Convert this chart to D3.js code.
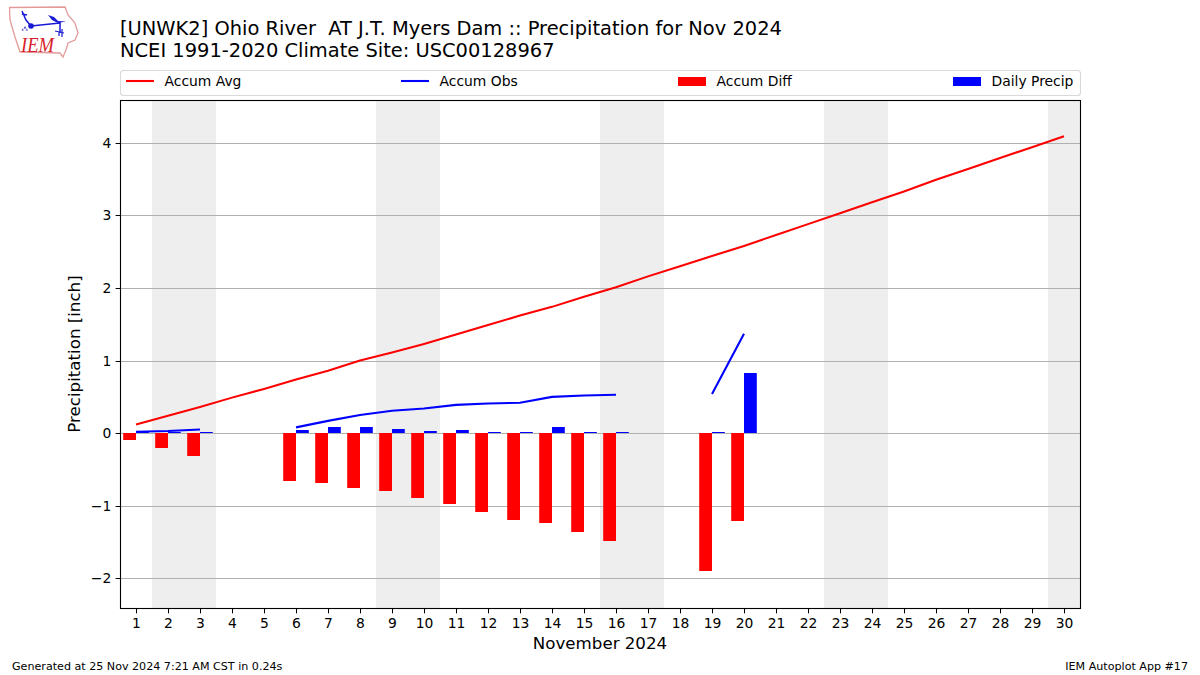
<!DOCTYPE html>
<html><head><meta charset="utf-8">
<script src="https://cdn.jsdelivr.net/npm/d3@7"></script>
<style>html,body{margin:0;padding:0;background:#fff}svg{display:block}text{font-family:"DejaVu Sans",sans-serif;fill:#000}</style>
</head><body><svg id="c" width="1200" height="675"></svg>
<script>
const days = d3.range(1, 31);
const accumAvg = [0.12,0.24,0.36,0.49,0.61,0.74,0.86,1.00,1.11,1.23,1.36,1.49,1.62,1.74,1.88,2.01,2.16,2.30,2.44,2.58,2.73,2.88,3.03,3.18,3.33,3.49,3.64,3.79,3.94,4.09];
const accumObs = [0.02,0.03,0.05,null,null,0.08,0.17,0.25,0.31,0.34,0.39,0.41,0.42,0.50,0.52,0.53,null,null,0.54,1.37,null,null,null,null,null,null,null,null,null,null];
const accumDiff = [-0.10,-0.21,-0.32,null,null,-0.66,-0.69,-0.75,-0.80,-0.89,-0.97,-1.09,-1.20,-1.24,-1.36,-1.49,null,null,-1.90,-1.21,null,null,null,null,null,null,null,null,null,null];
const dailyPrecip = [0.02,0.01,0.01,null,null,0.05,0.09,0.08,0.06,0.03,0.05,0.01,0.01,0.08,0.01,0.01,null,null,0.01,0.83,null,null,null,null,null,null,null,null,null,null];
const weekends = [[1.5,3.5],[8.5,10.5],[15.5,17.5],[22.5,24.5],[29.5,30.5]];
const yTicks = [-2,-1,0,1,2,3,4];
const legendLabels = ["Accum Avg","Accum Obs","Accum Diff","Daily Precip"];
const titleLines = ["[UNWK2] Ohio River  AT J.T. Myers Dam :: Precipitation for Nov 2024","NCEI 1991-2020 Climate Site: USC00128967"];

const L=120,R=1080,T=100,B=608;
const svg=d3.select("#c");
const x=d3.scaleLinear().domain([0.5,30.5]).range([L,R]);
const y=d3.scaleLinear().domain([-2.4077,4.5895]).range([B,T]);
const barW=x(0.4)-x(0);
const snapY=v=>Math.round(y(v))+0.5;
const y0=Math.round(y(0));
const plot=svg.append("g");

plot.selectAll("rect.w").data(weekends).join("rect").attr("class","w")
 .attr("x",d=>x(d[0])).attr("width",d=>x(d[1])-x(d[0])).attr("y",T).attr("height",B-T).attr("fill","#eeeeee");

plot.selectAll("line.g").data(yTicks).join("line").attr("class","g")
 .attr("x1",L).attr("x2",R).attr("y1",snapY).attr("y2",snapY)
 .attr("stroke","#b0b0b0").attr("stroke-width",1);

const ser=(a)=>days.map((d,i)=>({d,v:a[i]})).filter(o=>o.v!==null);
plot.selectAll("rect.diff").data(ser(accumDiff)).join("rect").attr("class","diff")
 .attr("x",o=>x(o.d)-barW).attr("width",barW).attr("y",y0).attr("height",o=>Math.round(y(o.v))-y0).attr("fill","#ff0000");
const dailyTop=v=>Math.min(y0-1,Math.round(y(v)));
plot.selectAll("rect.daily").data(ser(dailyPrecip)).join("rect").attr("class","daily")
 .attr("x",o=>x(o.d)).attr("width",barW).attr("y",o=>dailyTop(o.v)).attr("height",o=>y0-dailyTop(o.v)).attr("fill","#0000ff");

const line=d3.line().defined(o=>o.v!==null).x(o=>x(o.d)).y(o=>y(o.v));
const mk=a=>days.map((d,i)=>({d,v:a[i]}));
plot.append("path").attr("d",line(mk(accumAvg))).attr("fill","none").attr("stroke","#ff0000").attr("stroke-width",2.08);
plot.append("path").attr("d",line(mk(accumObs))).attr("fill","none").attr("stroke","#0000ff").attr("stroke-width",2.08);

svg.append("rect").attr("x",L+0.5).attr("y",T+0.5).attr("width",R-L).attr("height",B-T).attr("fill","none").attr("stroke","#000").attr("stroke-width",1.1);

const gx=svg.append("g").attr("transform",`translate(0,${B+0.5})`)
 .call(d3.axisBottom(x).tickValues(days).tickFormat(d3.format("d")).tickSize(4.86).tickPadding(4.4).tickSizeOuter(0));
gx.select(".domain").remove();
const gy=svg.append("g").attr("transform",`translate(${L+0.5},0)`)
 .call(d3.axisLeft(y).tickValues(yTicks).tickFormat(d=>String(d).replace("-","\u2212")).tickSize(4.86).tickPadding(4.4).tickSizeOuter(0));
gy.select(".domain").remove();
gy.selectAll(".tick").attr("transform",d=>`translate(0,${snapY(d)})`);
svg.selectAll(".tick text").attr("font-size","13.89px").attr("font-family",'"DejaVu Sans"').attr("fill","#000");
svg.selectAll(".tick line").attr("stroke","#000").attr("stroke-width",1);

svg.append("text").attr("x",600).attr("y",649).attr("text-anchor","middle").attr("font-size","16.67px").text("November 2024");
svg.append("text").attr("transform","translate(80,354) rotate(-90)").attr("text-anchor","middle").attr("font-size","16.67px").text("Precipitation [inch]");

svg.selectAll("text.t").data(titleLines).join("text").attr("class","t").attr("x",120).attr("y",(d,i)=>35+i*22).attr("font-size","19.44px").style("white-space","pre").text(d=>d);

svg.append("rect").attr("x",120.5).attr("y",70.5).attr("width",960).attr("height",25).attr("rx",3).attr("fill","#fff").attr("stroke","#d9d9d9").attr("stroke-width",1.1);
const legendX=[126,401,678,953];
const legendCol=["#ff0000","#0000ff","#ff0000","#0000ff"];
legendLabels.forEach((t,i)=>{
  if(i<2) svg.append("line").attr("x1",legendX[i]).attr("x2",legendX[i]+28).attr("y1",81).attr("y2",81).attr("stroke",legendCol[i]).attr("stroke-width",2.08);
  else svg.append("rect").attr("x",legendX[i]).attr("y",77).attr("width",28).attr("height",9).attr("fill",legendCol[i]);
  svg.append("text").attr("x",legendX[i]+38.5).attr("y",86).attr("font-size","13.89px").text(t);
});

svg.append("text").attr("x",12).attr("y",670).attr("font-size","11.11px").text("Generated at 25 Nov 2024 7:21 AM CST in 0.24s");
svg.append("text").attr("x",1188).attr("y",670).attr("text-anchor","end").attr("font-size","11.11px").text("IEM Autoplot App #17");

const logo=svg.append("g");
logo.append("path").attr("d","M9.5,7.5 L65,7 L68,15 L75,23 L78,33 L75,40 L68,43 L66,50 L63,57 L60,53 L20,52 L15,37 L10,20 Z").attr("fill","#fff").attr("stroke","#e39a9a").attr("stroke-width",1.3);
logo.append("path").attr("d","M31,26 L60,23 M60,22 L60,33 M22,11 L26,20 L31,26 M22,14 L27,15").attr("fill","none").attr("stroke","#1a1ad6").attr("stroke-width",1.5);
logo.append("circle").attr("cx",31).attr("cy",26).attr("r",2.8).attr("fill","#1a1ad6");
logo.append("path").attr("d","M48,15 L54,17 L58,21 L66,21.5 L58,23 L52,20 Z").attr("fill","#1a1ad6");
logo.append("path").attr("d","M55,31 L64,33 M62,29 L62,37 M59,32 L59,36").attr("fill","none").attr("stroke","#1a1ad6").attr("stroke-width",1.2);
logo.append("path").attr("d","M25,26 L26.5,28.5 L23.5,28.5 Z M22.5,28.5 L24,30.5 L21.5,30.5 Z M27,28.5 L28,30.5 L25.5,30.5 Z").attr("fill","#4a4ac8");
logo.append("text").attr("x",21).attr("y",52).attr("font-size","22px").attr("font-style","italic").attr("textLength",33).attr("lengthAdjust","spacingAndGlyphs").style("font-family",'"Liberation Serif",serif').style("fill","#d8222a").text("IEM");
</script></body></html>
